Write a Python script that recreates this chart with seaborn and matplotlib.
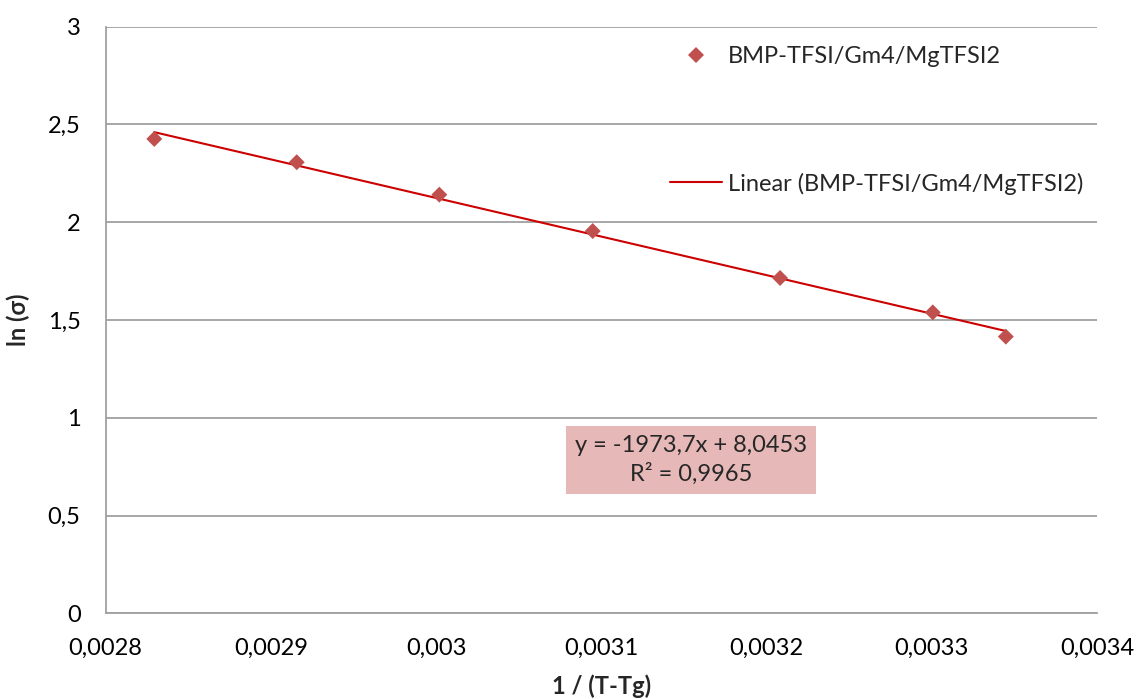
import matplotlib
matplotlib.use("Agg")
import matplotlib.pyplot as plt
import seaborn as sns
import pandas as pd
from matplotlib.lines import Line2D

# Measured data: inverse of (T - Tg) and natural log of conductivity
inv_t_tg = [0.0028295, 0.0029157, 0.0030020, 0.0030948, 0.0032082, 0.0033006, 0.0033448]
ln_sigma = [2.426, 2.307, 2.141, 1.955, 1.715, 1.539, 1.415]

# Linear trendline parameters
slope = -1973.7
intercept = 8.0453
r_squared = 0.9965

series_name = "BMP-TFSI/Gm4/MgTFSI2"
x_ticks = [0.0028, 0.0029, 0.0030, 0.0031, 0.0032, 0.0033, 0.0034]
x_tick_labels = ["0,0028", "0,0029", "0,003", "0,0031", "0,0032", "0,0033", "0,0034"]
y_ticks = [0, 0.5, 1, 1.5, 2, 2.5, 3]
y_tick_labels = ["0", "0,5", "1", "1,5", "2", "2,5", "3"]

sns.set_style("white")
plt.rcParams["font.family"] = ["Lato", "DejaVu Sans"]

marker_color = "#C0504D"
trend_color = "#CC0000"
grid_color = "#A0A0A0"
font_size = 17

fig = plt.figure(figsize=(11.36, 6.99), dpi=100)
ax = fig.add_axes([0.0929, 0.1226, 0.8728, 0.8392])

df = pd.DataFrame({"x": inv_t_tg, "y": ln_sigma})

# Trendline spanning the data range, computed from the fitted equation
x_min, x_max = min(inv_t_tg), max(inv_t_tg)
trend = pd.DataFrame({"x": [x_min, x_max],
                      "y": [slope * x_min + intercept, slope * x_max + intercept]})
sns.lineplot(data=trend, x="x", y="y", ax=ax, color=trend_color, linewidth=1.5, zorder=2)

sns.scatterplot(data=df, x="x", y="y", ax=ax, marker="D", s=66, color=marker_color,
                edgecolor="none", linewidth=0, zorder=3)

ax.set_xlim(x_ticks[0], x_ticks[-1])
ax.set_ylim(y_ticks[0], y_ticks[-1])
ax.set_xticks(x_ticks)
ax.set_xticklabels(x_tick_labels)
ax.set_yticks(y_ticks)
ax.set_yticklabels(y_tick_labels)

ax.grid(axis="y", color=grid_color, linewidth=1.3)
ax.grid(axis="x", visible=False)
ax.set_axisbelow(True)

for side in ["top", "right"]:
    ax.spines[side].set_visible(False)
for side in ["left", "bottom"]:
    ax.spines[side].set_color(grid_color)
    ax.spines[side].set_linewidth(1.3)

ax.tick_params(axis="both", direction="out", length=6, width=1.3, color=grid_color,
               labelsize=font_size, labelcolor="black")
ax.tick_params(axis="x", pad=12)
ax.tick_params(axis="y", pad=12)

ax.set_xlabel("1 / (T-Tg)", fontsize=font_size, fontweight="bold", labelpad=11)
ax.set_ylabel("ln (σ)", fontsize=font_size, fontweight="bold", labelpad=13)

handles = [
    Line2D([], [], marker="D", linestyle="none", color=marker_color, markersize=8,
           markeredgewidth=0),
    Line2D([], [], color=trend_color, linewidth=1.5),
]
labels = [series_name, f"Linear ({series_name})"]
ax.legend(handles, labels, loc="upper left", bbox_to_anchor=(0.5693, 0.9664),
          frameon=False, fontsize=font_size, labelspacing=4.45, handlelength=2.2,
          handletextpad=0.25, borderpad=0, borderaxespad=0)

eq_text = (f"y = {slope:.1f}x + {intercept:.4f}\n"
           f"R² = {r_squared:.4f}").replace(".", ",")
ax.text(0.0031543, 0.784, eq_text, ha="center", va="center", fontsize=font_size,
        linespacing=1.4,
        bbox=dict(boxstyle="square,pad=0.38", facecolor="#E6B9B8", edgecolor="none"))

fig.savefig("out.png", dpi=100)
